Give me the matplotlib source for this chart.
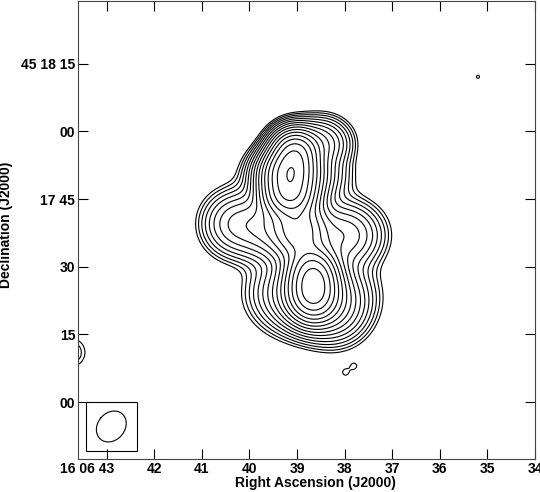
import numpy as np
import matplotlib
matplotlib.use("Agg")
import matplotlib.pyplot as plt
from matplotlib.transforms import ScaledTranslation

plt.rcParams['font.family'] = ['Liberation Sans', 'DejaVu Sans']

# RA in seconds of time (16h06m..s), Dec in arcsec offset from +45 17 00
ra_ticks = [43, 42, 41, 40, 39, 38, 37, 36, 35, 34]
ra_labels = ['16 06 43', '42', '41', '40', '39', '38', '37', '36', '35', '34']
dec_ticks = [0, 15, 30, 45, 60, 75]
dec_labels = ['00', '15', '30', '17 45', '00', '45 18 15']

# gaussian source components: RA (s), Dec ("), peak, sigma RA ("), sigma Dec (")
comp_ra = [39.05, 39.16, 39.16, 38.66, 38.66, 39.00, 38.70, 38.95, 40.30, 38.00, 38.20, 38.50, 39.60]
comp_dec = [55.5, 51.0, 46.0, 28.5, 23.5, 50.0, 24.0, 38.0, 39.5, 37.0, 20.0, 57.5, 38.5]
comp_amp = [0.50, 0.64, 0.60, 0.55, 0.55, 0.14, 0.15, 0.30, 0.06, 0.08, 0.05, 0.08, 0.08]
comp_sx = [2.8, 3.2, 3.2, 3.0, 3.0, 5.0, 6.0, 3.5, 4.0, 4.5, 4.0, 3.5, 4.0]
comp_sy = [2.8, 2.8, 2.8, 3.2, 3.2, 3.5, 4.5, 4.0, 4.0, 4.0, 4.0, 3.0, 4.0]

# faint noise blobs: RA, Dec, peak
blob_ra = [35.20, 37.98, 37.80, 43.75]
blob_dec = [72.1, 6.6, 8.0, 11.0]
blob_amp = [0.0065, 0.0065, 0.0065, 0.012]
blob_sig = [0.6, 1.0, 0.8, 2.5]

# restoring beam FWHM (arcsec) and position angle (deg)
beam_ra, beam_dec = 42.90, -5.4
beam_maj, beam_min, beam_pa = 7.4, 6.0, -40.0

n_levels = 16
lowest = 0.0055
step = 2 ** 0.5

cosd = 15.0 * np.cos(np.radians(45.3))  # arcsec per second of RA

ra = np.linspace(43.7, 33.9, 500)
dec = np.linspace(-13, 90, 500)
RA, DEC = np.meshgrid(ra, dec)

field = np.zeros_like(RA)
for x0, y0, a, sx, sy in zip(comp_ra, comp_dec, comp_amp, comp_sx, comp_sy):
    dx = (RA - x0) * cosd
    dy = DEC - y0
    field += a * np.exp(-0.5 * ((dx / sx) ** 2 + (dy / sy) ** 2))
for x0, y0, a, s in zip(blob_ra, blob_dec, blob_amp, blob_sig):
    dx = (RA - x0) * cosd
    dy = DEC - y0
    field += a * np.exp(-0.5 * (dx ** 2 + dy ** 2) / s ** 2)

levels = [lowest * step ** n for n in range(n_levels)]

fig = plt.figure(figsize=(5.4, 4.92), dpi=100)
ax = fig.add_axes([0.1444, 0.0671, 0.8465, 0.9309])
ax.contour(RA, DEC, field, levels=levels, colors='black', linewidths=0.8)

# beam ellipse and box
pa = np.radians(beam_pa)
t = np.linspace(0, 2 * np.pi, 200)
ex = 0.5 * beam_min * np.cos(t)
ey = 0.5 * beam_maj * np.sin(t)
east = ex * np.cos(pa) + ey * np.sin(pa)
north = -ex * np.sin(pa) + ey * np.cos(pa)
ax.plot(beam_ra + east / cosd, beam_dec + north, color='black', lw=0.8)
half = 5.4
ax.add_patch(plt.Rectangle((beam_ra - half / cosd - 0.02, beam_dec - half),
                           2 * half / cosd + 0.04, 2 * half,
                           fill=False, ec='black', lw=0.8))

ax.set_xlim(43.6, 34.0)
ax.set_ylim(-12.6, 88.9)
ax.set_xticks(ra_ticks)
ax.set_xticklabels(ra_labels)
ax.set_yticks(dec_ticks)
ax.set_yticklabels(dec_labels)
ax.tick_params(direction='in', length=7, width=0.8, top=True, right=True,
               labelsize=10)
ax.tick_params(axis='x', pad=2)
ax.tick_params(axis='y', pad=2)
for lab in ax.get_xticklabels() + ax.get_yticklabels():
    lab.set_fontweight('bold')
first = ax.get_xticklabels()[0]
first.set_horizontalalignment('right')
first.set_transform(first.get_transform() + ScaledTranslation(0.075, 0, fig.dpi_scale_trans))
for sp in ax.spines.values():
    sp.set_linewidth(0.8)
    sp.set_color('#444444')
ax.set_xlabel('Right Ascension (J2000)', fontsize=10, fontweight='bold', va='top')
ax.xaxis.set_label_coords(0.52, -0.037)
ax.set_ylabel('Declination (J2000)', fontsize=10, fontweight='bold')
ax.yaxis.set_label_coords(-0.142, 0.511)

fig.savefig('out.png', dpi=100)
